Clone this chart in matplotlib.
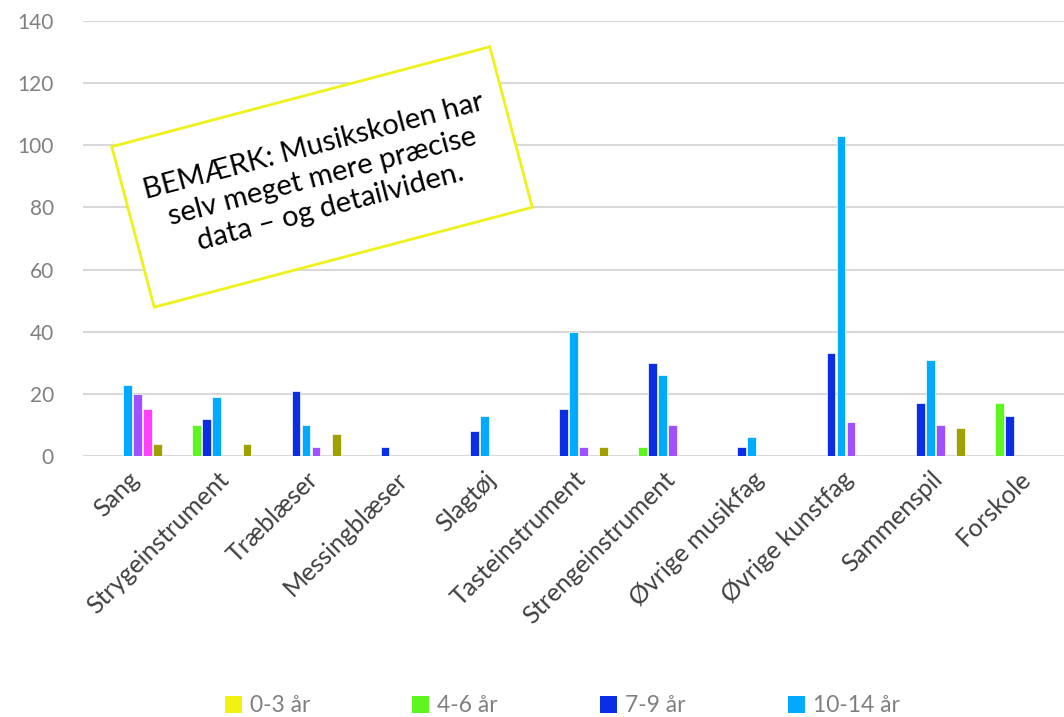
import matplotlib
matplotlib.use("Agg")
import matplotlib.pyplot as plt
import numpy as np
from matplotlib.patches import Patch, Rectangle
from matplotlib.transforms import Affine2D

categories = ["Sang", "Strygeinstrument", "Træblæser", "Messingblæser", "Slagtøj",
              "Tasteinstrument", "Strengeinstrument", "Øvrige musikfag",
              "Øvrige kunstfag", "Sammenspil", "Forskole"]
series_names = ["0-3 år", "4-6 år", "7-9 år", "10-14 år", "15-19 år", "20-24 år", "25+ år"]
s_0_3   = [0, 0, 0, 0, 0, 0, 0, 0, 0, 0, 0]
s_4_6   = [0, 10, 0, 0, 0, 0, 3, 0, 0, 0, 17]
s_7_9   = [0, 12, 21, 3, 8, 15, 30, 3, 33, 17, 13]
s_10_14 = [23, 19, 10, 0, 13, 40, 26, 6, 103, 31, 0]
s_15_19 = [20, 0, 3, 0, 0, 3, 10, 0, 11, 10, 0]
s_20_24 = [15, 0, 0, 0, 0, 0, 0, 0, 0, 0, 0]
s_25p   = [4, 4, 7, 0, 0, 3, 0, 0, 0, 9, 0]
series = [s_0_3, s_4_6, s_7_9, s_10_14, s_15_19, s_20_24, s_25p]
colors = ["#f2f212", "#5ef520", "#0a2de6", "#00aaff", "#a050ff", "#ff40ff", "#a0a000"]

plt.rcParams['font.family'] = ['Lato', 'DejaVu Sans']
W, H = 1064, 717
fig = plt.figure(figsize=(W / 100, H / 100), dpi=100)
ax = fig.add_axes([83 / W, 1 - 456 / H, 981 / W, 435 / H])

x = np.arange(len(categories))
step = 0.113
w = 0.098
for i, (vals, c) in enumerate(zip(series, colors)):
    ax.bar(x + (i - 3) * step, vals, width=w, color=c, edgecolor='white',
           linewidth=0.5, zorder=3)

ax.set_xlim(-0.5, len(categories) - 0.5)
ax.set_ylim(0, 140)
ax.set_yticks(np.arange(0, 141, 20))
ax.grid(axis='y', color='#d9d9d9', linewidth=1.5, zorder=0)
for s in ax.spines.values():
    s.set_visible(False)
ax.tick_params(axis='both', length=0)
ax.tick_params(axis='y', labelsize=15, labelcolor='#808080', pad=21)
ax.set_xticks(x)
ax.set_xticklabels(categories, rotation=45, ha='right', rotation_mode='anchor',
                   fontsize=18, color='#404040')
ax.tick_params(axis='x', pad=8)

# annotation box
px = Affine2D().scale(1 / W, 1 / H) + fig.transFigure
cx, cy = 322, H - 177
bw, bh = 391, 166
rect = Rectangle((cx - bw / 2, cy - bh / 2), bw, bh, angle=14.8, rotation_point='center',
                 transform=px, facecolor='white', edgecolor='#eef21a', linewidth=2,
                 zorder=5)
fig.add_artist(rect)
fig.text(cx / W, cy / H, "BEMÆRK: Musikskolen har\nselv meget mere præcise\ndata – og detailviden.",
         rotation=14.8, ha='center', va='center', rotation_mode='anchor',
         fontsize=21, color='black', linespacing=1.25, zorder=6)

handles = [Patch(facecolor=colors[i], edgecolor='none') for i in range(4)]
leg = fig.legend(handles, series_names[:4], loc='center left',
                 bbox_to_anchor=(204 / W, 1 - 706 / H), ncol=4, frameon=False,
                 fontsize=16.5, handlelength=0.75, handleheight=0.75, handletextpad=0.35,
                 columnspacing=4.45)
for t in leg.get_texts():
    t.set_color('#808080')

fig.savefig("out.png", dpi=100)
